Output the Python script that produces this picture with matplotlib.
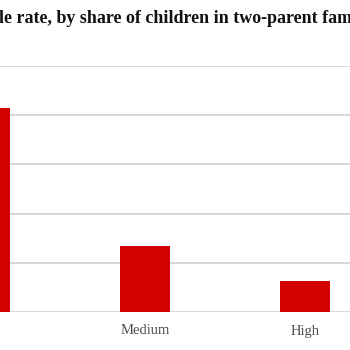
import matplotlib
matplotlib.use("Agg")
import matplotlib.pyplot as plt

#------------
#Data
#------------
categories = ["Low", "Medium", "High"]
rates = [4.14, 1.35, 0.63]
yticks = [0, 1, 2, 3, 4, 5]
title = "Idle rate, by share of children in two-parent families"

#------------
#Plot
#------------
plt.rcParams['font.family'] = ['Liberation Serif', 'DejaVu Serif']

fig = plt.figure(figsize=(3.5, 3.5), dpi=100)
# the chart is a crop of a wider one: axes run past the canvas edges
ax = fig.add_axes([-95/350, 38/350, 480/350, 246/350])

xpos = range(len(categories))
ax.bar(xpos, rates, width=0.31, color="#d40000", zorder=3)

ax.set_xlim(-0.5, len(categories) - 0.5)
ax.set_ylim(yticks[0], yticks[-1])
ax.set_yticks(yticks)
ax.set_yticklabels([])  # value labels sit outside the cropped view
ax.set_xticks(list(xpos))
ax.set_xticklabels(categories)
ax.tick_params(axis="x", length=0, pad=9, labelsize=10.5, labelcolor="#505050")
ax.tick_params(axis="y", length=0)
ax.grid(axis="y", color="#d4d4d4", linewidth=1.3, zorder=0)
for s in ax.spines.values():
    s.set_visible(False)

fig.text(-18/350, 1 - 23/350, title, ha="left", va="baseline",
         fontsize=13, fontweight="bold", color="#111111")

fig.savefig("out.png", dpi=100)
